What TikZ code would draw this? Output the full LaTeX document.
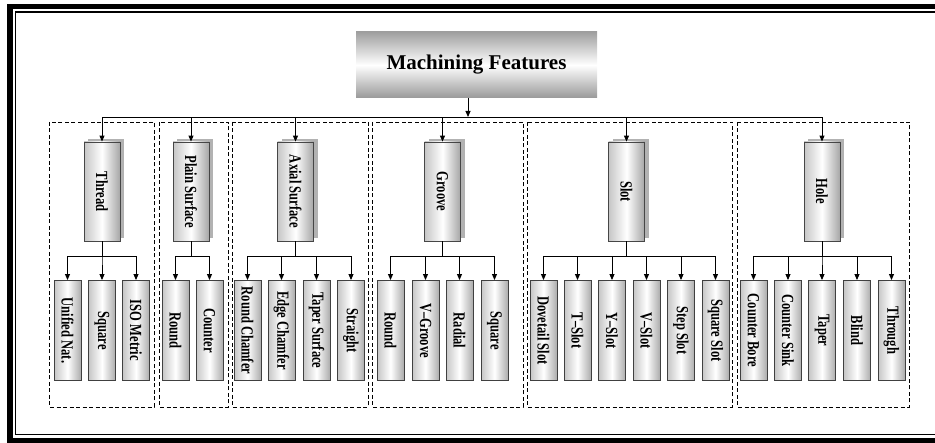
\documentclass[tikz,border=0pt]{standalone}
\usepackage{fontspec}
\setmainfont{Liberation Serif}
\usetikzlibrary{arrows.meta,shadows}

% text running down the box, a little condensed
\newcommand{\vlabel}[1]{\rotatebox{-90}{\scalebox{0.74}[1]{#1}}}

\tikzset{
  title/.style={top color=gray!75, bottom color=gray!80, middle color=white,
    minimum width=241pt, minimum height=66pt, inner sep=0pt,
    font=\fontsize{21}{21}\selectfont\bfseries},
  feature/.style={draw=gray!55!black, line width=0.8pt,
    left color=gray!45, right color=gray!70, middle color=white,
    minimum width=36pt, minimum height=99pt, inner sep=0pt,
    font=\fontsize{17}{17}\selectfont\bfseries,
    drop shadow={shadow xshift=4pt, shadow yshift=3pt, fill=gray!60, opacity=1}},
  subfeature/.style={draw=gray!50!black, line width=0.9pt,
    left color=gray!45, right color=gray!65, middle color=white,
    minimum width=27pt, minimum height=100pt, inner sep=0pt,
    font=\fontsize{17}{17}\selectfont\bfseries},
  group/.style={draw, dash pattern=on 4pt off 2.5pt, line width=0.8pt},
  link/.style={-{Triangle[length=6pt,width=5pt]}, line width=0.9pt}
}

\begin{document}
\begin{tikzpicture}[x=1pt,y=-1pt]
  \clip (0,0) rectangle (935,443);

  % page frame
  \draw[line width=5.5pt] (945,6.5) -- (10,6.5) -- (10,440.5) -- (945,440.5);
  \draw[line width=1.2pt] (945,12) -- (15.5,12) -- (15.5,434.5) -- (945,434.5);

  % feature groups
  \draw[group] (49,122) rectangle (154,407);
  \draw[group] (159,122) rectangle (228,407);
  \draw[group] (232,122) rectangle (368,407);
  \draw[group] (372,122) rectangle (523,407);
  \draw[group] (527,122) rectangle (732,407);
  \draw[group] (737,122) rectangle (909,407);

  \node[title] (mf) at (476.5,65) {Machining Features};
  \coordinate (bus) at (468,117);

  \node[feature] (thread) at (102,191.5) {\vlabel{Thread}};
  \node[feature] (plain) at (191,191.5) {\vlabel{Plain Surface}};
  \node[feature] (axial) at (295.5,191.5) {\vlabel{Axial Surface}};
  \node[feature] (groove) at (442.5,191.5) {\vlabel{Groove}};
  \node[feature] (slot) at (626.5,191.5) {\vlabel{Slot}};
  \node[feature] (hole) at (822,191.5) {\vlabel{Hole}};

  \node[subfeature] (unified) at (67.5,330.5) {\vlabel{Unified Nat.}};
  \node[subfeature] (tsquare) at (102,330.5) {\vlabel{Square}};
  \node[subfeature] (iso) at (136,330.5) {\vlabel{ISO Metric}};

  \node[subfeature] (pround) at (175.5,330.5) {\vlabel{Round}};
  \node[subfeature] (counter) at (209.5,330.5) {\vlabel{Counter}};

  \node[subfeature] (rchamfer) at (247.5,330.5) {\vlabel{Round Chamfer}};
  \node[subfeature] (echamfer) at (281.5,330.5) {\vlabel{Edge Chamfer}};
  \node[subfeature] (tsurface) at (316.5,330.5) {\vlabel{Taper Surface}};
  \node[subfeature] (straight) at (351,330.5) {\vlabel{Straight}};

  \node[subfeature] (ground) at (390.5,330.5) {\vlabel{Round}};
  \node[subfeature] (vgroove) at (425.5,330.5) {\vlabel{V--Groove}};
  \node[subfeature] (radial) at (459.5,330.5) {\vlabel{Radial}};
  \node[subfeature] (gsquare) at (494.5,330.5) {\vlabel{Square}};

  \node[subfeature] (dovetail) at (543.5,330.5) {\vlabel{Dovetail Slot}};
  \node[subfeature] (tslot) at (577.5,330.5) {\vlabel{T--Slot}};
  \node[subfeature] (yslot) at (612,330.5) {\vlabel{Y--Slot}};
  \node[subfeature] (vslot) at (646.5,330.5) {\vlabel{V--Slot}};
  \node[subfeature] (stepslot) at (681,330.5) {\vlabel{Step Slot}};
  \node[subfeature] (sqslot) at (715.5,330.5) {\vlabel{Square Slot}};

  \node[subfeature] (cbore) at (753.5,330.5) {\vlabel{Counter Bore}};
  \node[subfeature] (csink) at (788,330.5) {\vlabel{Counter Sink}};
  \node[subfeature] (taper) at (822,330.5) {\vlabel{Taper}};
  \node[subfeature] (blind) at (857,330.5) {\vlabel{Blind}};
  \node[subfeature] (through) at (891.5,330.5) {\vlabel{Through}};

  \begin{scope}[link]
    \draw (mf.south -| bus) -- (bus);
    \draw (bus) -| (thread.north);
    \draw (bus) -| (plain.north);
    \draw (bus) -| (axial.north);
    \draw (bus) -| (groove.north);
    \draw (bus) -| (slot.north);
    \draw (bus) -| (hole.north);

    \draw (thread.south) -- ++(0,15) -| (unified.north);
    \draw (thread.south) -- ++(0,15) -| (tsquare.north);
    \draw (thread.south) -- ++(0,15) -| (iso.north);

    \draw (plain.south) -- ++(0,15) -| (pround.north);
    \draw (plain.south) -- ++(0,15) -| (counter.north);

    \draw (axial.south) -- ++(0,15) -| (rchamfer.north);
    \draw (axial.south) -- ++(0,15) -| (echamfer.north);
    \draw (axial.south) -- ++(0,15) -| (tsurface.north);
    \draw (axial.south) -- ++(0,15) -| (straight.north);

    \draw (groove.south) -- ++(0,15) -| (ground.north);
    \draw (groove.south) -- ++(0,15) -| (vgroove.north);
    \draw (groove.south) -- ++(0,15) -| (radial.north);
    \draw (groove.south) -- ++(0,15) -| (gsquare.north);

    \draw (slot.south) -- ++(0,15) -| (dovetail.north);
    \draw (slot.south) -- ++(0,15) -| (tslot.north);
    \draw (slot.south) -- ++(0,15) -| (yslot.north);
    \draw (slot.south) -- ++(0,15) -| (vslot.north);
    \draw (slot.south) -- ++(0,15) -| (stepslot.north);
    \draw (slot.south) -- ++(0,15) -| (sqslot.north);

    \draw (hole.south) -- ++(0,15) -| (cbore.north);
    \draw (hole.south) -- ++(0,15) -| (csink.north);
    \draw (hole.south) -- ++(0,15) -| (taper.north);
    \draw (hole.south) -- ++(0,15) -| (blind.north);
    \draw (hole.south) -- ++(0,15) -| (through.north);
  \end{scope}
\end{tikzpicture}
\end{document}
